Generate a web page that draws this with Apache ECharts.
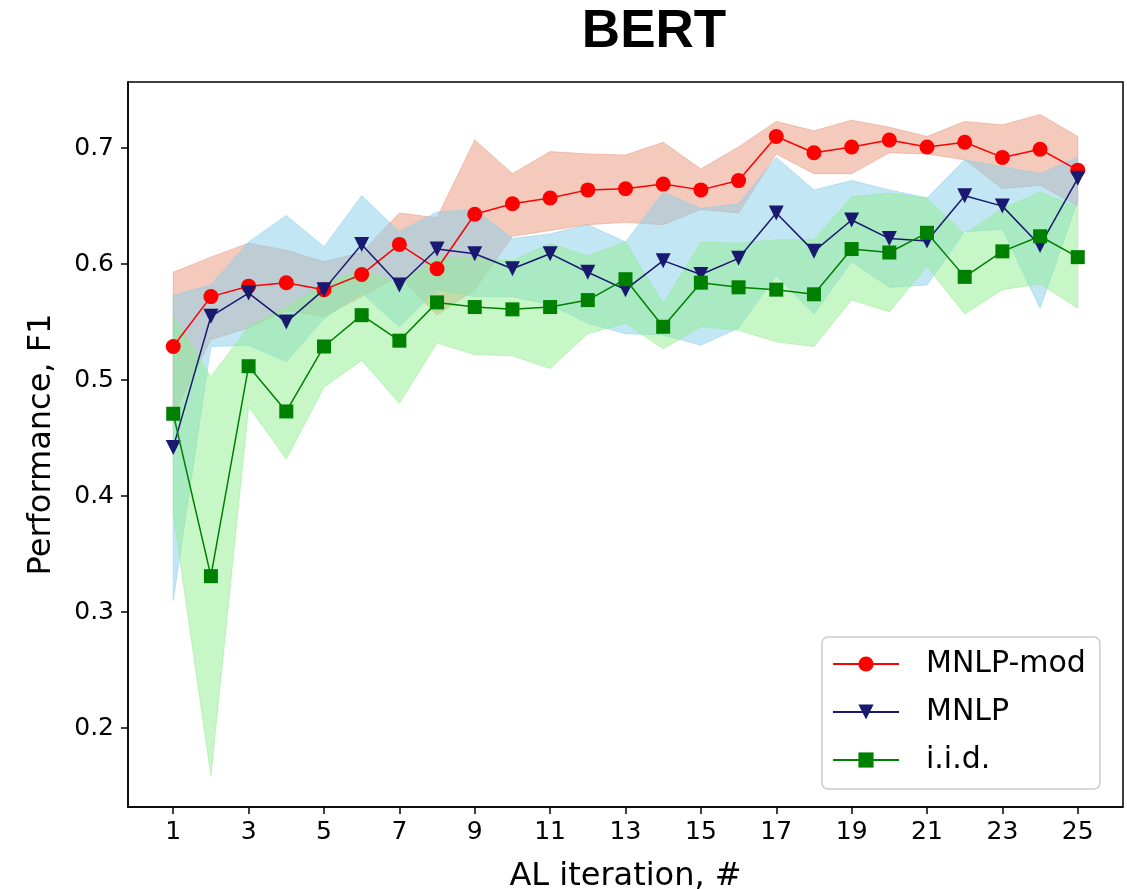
<!DOCTYPE html>
<html>
<head>
<meta charset="utf-8">
<script src="https://cdn.jsdelivr.net/npm/echarts@6/dist/echarts.min.js"></script>
<style>html,body{margin:0;padding:0;background:#fff}#c{width:1127px;height:889px}</style>
</head>
<body>
<div id="c"></div>
<script>
const iterations = [1,2,3,4,5,6,7,8,9,10,11,12,13,14,15,16,17,18,19,20,21,22,23,24,25];
const xTicks = [1,3,5,7,9,11,13,15,17,19,21,23,25];
const yTicks = [0.2,0.3,0.4,0.5,0.6,0.7];

const modMean  = [0.529,0.572,0.581,0.584,0.578,0.591,0.617,0.596,0.643,0.652,0.657,0.664,0.665,0.669,0.664,0.672,0.710,0.696,0.701,0.707,0.701,0.705,0.692,0.699,0.681];
const modUpper = [0.593,0.606,0.618,0.612,0.602,0.610,0.644,0.640,0.707,0.678,0.697,0.695,0.694,0.705,0.682,0.701,0.723,0.715,0.724,0.718,0.710,0.723,0.720,0.729,0.710];
const modLower = [0.470,0.535,0.545,0.560,0.555,0.572,0.590,0.556,0.578,0.624,0.629,0.634,0.636,0.634,0.647,0.644,0.695,0.678,0.678,0.696,0.695,0.690,0.665,0.668,0.650];

const mnlpMean  = [0.442,0.555,0.575,0.550,0.578,0.617,0.582,0.613,0.609,0.596,0.609,0.593,0.578,0.603,0.591,0.605,0.644,0.611,0.638,0.622,0.620,0.659,0.650,0.616,0.674];
const mnlpUpper = [0.573,0.582,0.619,0.642,0.615,0.659,0.628,0.645,0.647,0.622,0.626,0.634,0.619,0.662,0.648,0.652,0.692,0.664,0.672,0.664,0.657,0.690,0.684,0.678,0.692];
const mnlpLower = [0.310,0.529,0.530,0.516,0.553,0.575,0.546,0.578,0.572,0.572,0.565,0.549,0.540,0.539,0.530,0.545,0.590,0.557,0.602,0.580,0.582,0.628,0.630,0.562,0.655];

const iidMean  = [0.471,0.331,0.512,0.473,0.529,0.556,0.534,0.567,0.563,0.561,0.563,0.569,0.587,0.546,0.584,0.580,0.578,0.574,0.613,0.610,0.627,0.589,0.611,0.624,0.606];
const iidUpper = [0.555,0.503,0.546,0.563,0.583,0.595,0.583,0.606,0.605,0.603,0.618,0.607,0.619,0.566,0.619,0.618,0.621,0.621,0.658,0.661,0.657,0.626,0.648,0.662,0.649];
const iidLower = [0.385,0.159,0.477,0.432,0.494,0.517,0.480,0.532,0.522,0.521,0.510,0.540,0.549,0.527,0.546,0.543,0.533,0.529,0.569,0.559,0.598,0.557,0.578,0.583,0.562];

const FONT = 'DejaVu Sans';
const pairs = (arr) => iterations.map((x, i) => [x, arr[i]]);

function band(lower, upper, color, z) {
  return {
    type: 'custom', silent: true, z: z,
    data: iterations.map((x, i) => [x, lower[i], upper[i]]),
    encode: { x: 0, y: [1, 2] },
    renderItem: function (params, api) {
      if (params.dataIndexInside !== 0) return null;
      const n = params.dataInsideLength;
      const top = [], bot = [];
      for (let i = 0; i < n; i++) {
        const x = api.value(0, i);
        top.push(api.coord([x, api.value(2, i)]));
        bot.push(api.coord([x, api.value(1, i)]));
      }
      return {
        type: 'polygon',
        shape: { points: top.concat(bot.reverse()) },
        style: { fill: color, stroke: color, lineWidth: 1 }
      };
    }
  };
}

const chart = echarts.init(document.getElementById('c'), null, { renderer: 'canvas' });
chart.setOption({
  animation: false,
  backgroundColor: '#fff',
  graphic: [{
    type: 'text', x: 654, y: 6, z: 100,
    style: { text: 'BERT', fill: '#000', font: 'bold 53px "Liberation Sans"', textAlign: 'center', textVerticalAlign: 'top' }
  }],
  grid: { left: 128, top: 82, right: 4, bottom: 82, outerBoundsMode: 'none', containLabel: false,
    show: true, borderColor: '#000', borderWidth: 1.5, backgroundColor: 'transparent' },
  legend: {
    data: ['MNLP-mod', 'MNLP', 'i.i.d.'],
    orient: 'vertical', left: 822, top: 637,
    itemWidth: 66, itemHeight: 19, itemGap: 14,
    padding: [10, 14, 12, 10],
    backgroundColor: 'rgba(255,255,255,0.85)', borderColor: '#cccccc', borderWidth: 1.5, borderRadius: 6,
    textStyle: { fontFamily: FONT, fontSize: 30, color: '#000', padding: [0, 0, 0, 22], lineHeight: 34 }
  },
  xAxis: {
    type: 'value', min: -0.2, max: 26.2,
    name: 'AL iteration, #', nameLocation: 'middle', nameGap: 54,
    nameTextStyle: { fontFamily: FONT, fontSize: 32, color: '#000' },
    axisLine: { show: true, onZero: false, lineStyle: { color: '#000', width: 1.5 } },
    axisTick: { show: true, length: 7, lineStyle: { color: '#000', width: 1.5 }, customValues: xTicks },
    axisLabel: { fontFamily: FONT, fontSize: 25, color: '#000', margin: 13, customValues: xTicks },
    splitLine: { show: false }
  },
  yAxis: {
    type: 'value', min: 0.132, max: 0.757,
    name: 'Performance, F1', nameLocation: 'middle', nameGap: 70,
    nameTextStyle: { fontFamily: FONT, fontSize: 32, color: '#000' },
    axisLine: { show: true, onZero: false, lineStyle: { color: '#000', width: 1.5 } },
    axisTick: { show: true, length: 7, lineStyle: { color: '#000', width: 1.5 }, customValues: yTicks },
    axisLabel: { fontFamily: FONT, fontSize: 25, color: '#000', margin: 14, customValues: yTicks,
      formatter: (v) => v.toFixed(1) },
    splitLine: { show: false }
  },
  series: [
    band(modLower, modUpper, 'rgba(233,150,122,0.5)', 1),
    band(mnlpLower, mnlpUpper, 'rgba(135,206,235,0.5)', 2),
    band(iidLower, iidUpper, 'rgba(144,238,144,0.5)', 3),
    { name: 'MNLP-mod', type: 'line', data: pairs(modMean), z: 10,
      symbol: 'circle', symbolSize: 15,
      lineStyle: { color: '#ff0000', width: 1.5 }, itemStyle: { color: '#ff0000' } },
    { name: 'MNLP', type: 'line', data: pairs(mnlpMean), z: 11,
      symbol: 'path://M0,0L2,0L1,2Z', symbolSize: [15, 15],
      lineStyle: { color: '#191970', width: 1.5 }, itemStyle: { color: '#191970' } },
    { name: 'i.i.d.', type: 'line', data: pairs(iidMean), z: 12,
      symbol: 'rect', symbolSize: 14,
      lineStyle: { color: '#008000', width: 1.5 }, itemStyle: { color: '#008000' } }
  ]
});
</script>
</body>
</html>
